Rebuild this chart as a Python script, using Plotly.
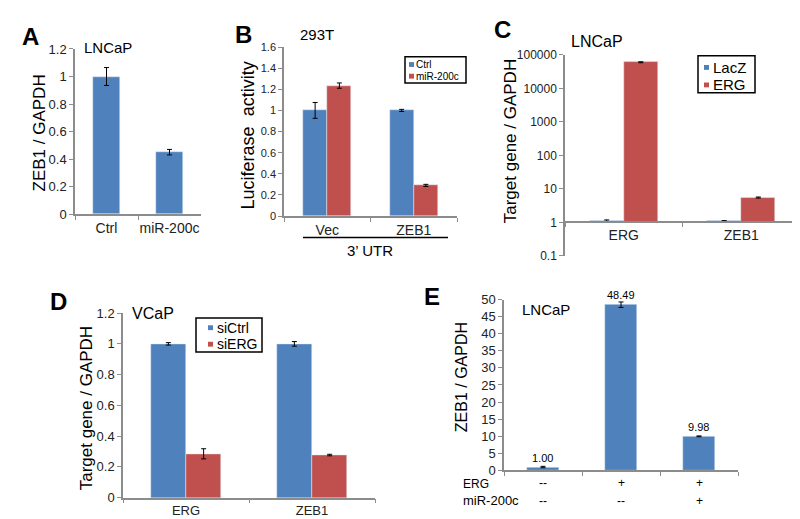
import plotly.graph_objects as go

W, H = 800, 519
BLUE = "#4F81BD"
RED = "#C0504D"
AXC = "#8c8c8c"
FONT = "Liberation Sans, Arial, sans-serif"

# A - LNCaP
a_cats = ["Ctrl", "miR-200c"]
a_vals = [1.0, 0.45]
a_err = [0.065, 0.02]

# B - 293T luciferase
b_cats = ["Vec", "ZEB1"]
b_names = ["Ctrl", "miR-200c"]
b_ctrl = [1.0, 1.0]
b_ctrl_err = [0.075, 0.01]
b_mir = [1.235, 0.29]
b_mir_err = [0.025, 0.01]

# C - LNCaP, log scale
c_cats = ["ERG", "ZEB1"]
c_names = ["LacZ", "ERG"]
c_lacz = [1.1, 1.08]
c_lacz_err = [0.08, 0.05]
c_erg = [60000, 5.5]
c_erg_err = [2000, 0.2]
c_ticks = [0.1, 1, 10, 100, 1000, 10000, 100000]
c_ticktext = ["0.1", "1", "10", "100", "1000", "10000", "100000"]

# D - VCaP
d_cats = ["ERG", "ZEB1"]
d_names = ["siCtrl", "siERG"]
d_sictrl = [1.0, 1.0]
d_sictrl_err = [0.008, 0.015]
d_sierg = [0.285, 0.277]
d_sierg_err = [0.033, 0.005]

# E - LNCaP
e_erg = ["--", "+", "+"]
e_mir = ["--", "--", "+"]
e_vals = [1.00, 48.49, 9.98]
e_err = [0.2, 0.8, 0.12]
e_cats = [f"{a} {b}" for a, b in zip(e_erg, e_mir)]


def fx(p):
    return p / W


def fy(p):
    return 1 - p / H


def err(v):
    return dict(type="data", array=v, color="black", thickness=1, width=2.5)


fig = go.Figure()

# A
fig.add_trace(go.Bar(x=a_cats, y=a_vals, error_y=err(a_err), marker_color=BLUE,
                     width=0.42, xaxis="x", yaxis="y"))
# B
fig.add_trace(go.Bar(x=b_cats, y=b_ctrl, error_y=err(b_ctrl_err), marker_color=BLUE,
                     width=0.28, offset=-0.28, name=b_names[0], xaxis="x2", yaxis="y2"))
fig.add_trace(go.Bar(x=b_cats, y=b_mir, error_y=err(b_mir_err), marker_color=RED,
                     width=0.28, offset=0, name=b_names[1], xaxis="x2", yaxis="y2"))
# C (bars start at 1 on the log axis)
fig.add_trace(go.Bar(x=c_cats, y=[v - 1 for v in c_lacz], base=1, error_y=err(c_lacz_err),
                     marker_color=BLUE, width=0.29, offset=-0.29, name=c_names[0],
                     xaxis="x3", yaxis="y3"))
fig.add_trace(go.Bar(x=c_cats, y=[v - 1 for v in c_erg], base=1, error_y=err(c_erg_err),
                     marker_color=RED, width=0.29, offset=0, name=c_names[1],
                     xaxis="x3", yaxis="y3"))
# D
fig.add_trace(go.Bar(x=d_cats, y=d_sictrl, error_y=err(d_sictrl_err), marker_color=BLUE,
                     width=0.28, offset=-0.28, name=d_names[0], xaxis="x4", yaxis="y4"))
fig.add_trace(go.Bar(x=d_cats, y=d_sierg, error_y=err(d_sierg_err), marker_color=RED,
                     width=0.28, offset=0, name=d_names[1], xaxis="x4", yaxis="y4"))
# E
fig.add_trace(go.Bar(x=e_cats, y=e_vals, error_y=err(e_err), marker_color=BLUE,
                     width=0.40, texttemplate="%{y:.2f}",
                     textposition="outside", textfont=dict(size=11, color="black"),
                     cliponaxis=False, xaxis="x5", yaxis="y5"))


def yax(dom, rng, dtick, anchor, size):
    return dict(domain=[fy(dom[1]), fy(dom[0])], range=rng, dtick=dtick, anchor=anchor,
                showline=True, linecolor=AXC, linewidth=1.5, ticks="outside",
                ticklen=4, tickcolor=AXC, showgrid=False, zeroline=False,
                tickfont=dict(size=size, color="#222"), fixedrange=True)


def xax(dom, n, anchor, size, show=True):
    return dict(domain=[fx(dom[0]), fx(dom[1])], range=[-0.5, n - 0.5], anchor=anchor,
                type="category", showline=True, linecolor=AXC, linewidth=1.5,
                ticks="outside", tickson="boundaries", ticklen=4, tickcolor=AXC,
                showgrid=False, zeroline=False, showticklabels=show, tickangle=0,
                tickfont=dict(size=size, color="#222"), fixedrange=True)


c_y0, c_y1 = 41, 248
c_pos = fy(c_y1) + (fy(c_y0) - fy(c_y1)) / 6

fig.update_layout(
    width=W, height=H, margin=dict(l=0, r=0, t=0, b=0),
    paper_bgcolor="white", plot_bgcolor="white", showlegend=False,
    font=dict(family=FONT, color="#222"),
    xaxis=xax((67, 193), 2, "y", 14),
    yaxis=yax((35, 205), [0, 1.2], 0.2, "x", 13),
    xaxis2=xax((276, 449), 2, "y2", 14),
    yaxis2=yax((33, 207), [0, 1.6], 0.2, "x2", 11),
    xaxis3=dict(xax((557, 792), 2, "free", 14), position=c_pos),
    yaxis3=dict(yax((c_y0, c_y1), [-1, 5], None, "x3", 12), type="log",
                tickvals=c_ticks, ticktext=c_ticktext),
    xaxis4=xax((115, 367), 2, "y4", 13),
    yaxis4=yax((307, 497), [0, 1.2], 0.2, "x4", 13),
    xaxis5=xax((496, 730), 3, "y5", 12, show=False),
    yaxis5=yax((293, 469), [0, 50], 5, "x5", 13),
    bargap=0,
)

ann = []
shapes = []


def text(x, y, s, size, bold=False, anchor="left", angle=0):
    ann.append(dict(x=fx(x), y=fy(y), xref="paper", yref="paper",
                    text=f"<b>{s}</b>" if bold else s,
                    showarrow=False, xanchor=anchor, yanchor="middle", textangle=angle,
                    font=dict(size=size, color="black", family=FONT)))


def legend_box(box, names, colors, rows, mx, tx, size, msize=5):
    x0, y0, x1, y1 = box
    shapes.append(dict(type="rect", xref="paper", yref="paper", x0=fx(x0), x1=fx(x1),
                       y0=fy(y1), y1=fy(y0), line=dict(color="black", width=1.5),
                       fillcolor="white"))
    for name, col, ry in zip(names, colors, rows):
        shapes.append(dict(type="rect", xref="paper", yref="paper",
                           x0=fx(mx), x1=fx(mx + msize), y0=fy(ry + msize / 2),
                           y1=fy(ry - msize / 2), line=dict(width=0), fillcolor=col))
        text(tx, ry, name, size)


# panel letters
text(12, 22, "A", 24, True)
text(225, 20, "B", 24, True)
text(484, 15, "C", 24, True)
text(40, 295, "D", 24, True)
text(414, 290, "E", 24, True)

# cell line titles
text(74, 33, "LNCaP", 15)
text(290, 20, "293T", 15)
text(561, 27, "LNCaP", 16)
text(122, 307, "VCaP", 16)
text(512, 303, "LNCaP", 15)

# y-axis titles
text(31, 122, "ZEB1 / GAPDH", 17, anchor="center", angle=-90)
text(240, 124, "Luciferase  activity", 18, anchor="center", angle=-90)
text(502, 130, "Target gene / GAPDH", 17, anchor="center", angle=-90)
text(78, 405, "Target gene / GAPDH", 17, anchor="center", angle=-90)
text(453, 373, "ZEB1 / GAPDH", 16, anchor="center", angle=-90)

# legends
legend_box((397, 43, 458, 70), b_names, [BLUE, RED], [51, 63], 401, 406, 10)
legend_box((690, 42, 747, 80), c_names, [BLUE, RED], [54, 72], 696, 703, 15)
legend_box((188, 312, 254, 347), d_names, [BLUE, RED], [322, 339], 200, 207, 14)

# B: 3' UTR grouping
text(362, 243, "3’ UTR", 15, anchor="center")
shapes.append(dict(type="line", xref="paper", yref="paper", x0=fx(295), x1=fx(440),
                   y0=fy(229), y1=fy(229), line=dict(color="black", width=1.5)))

# E: condition rows
text(453, 483, "ERG", 12)
text(453, 500, "miR-200c", 13)
for cat, a, b in zip(e_cats, e_erg, e_mir):
    for val, yy in ((a, 482), (b, 500)):
        ann.append(dict(x=cat, y=fy(yy), xref="x5", yref="paper", text=val,
                        showarrow=False, xanchor="center", yanchor="middle",
                        font=dict(size=12, color="black", family=FONT)))

fig.update_layout(annotations=ann, shapes=shapes)

fig.write_html("out.html")
